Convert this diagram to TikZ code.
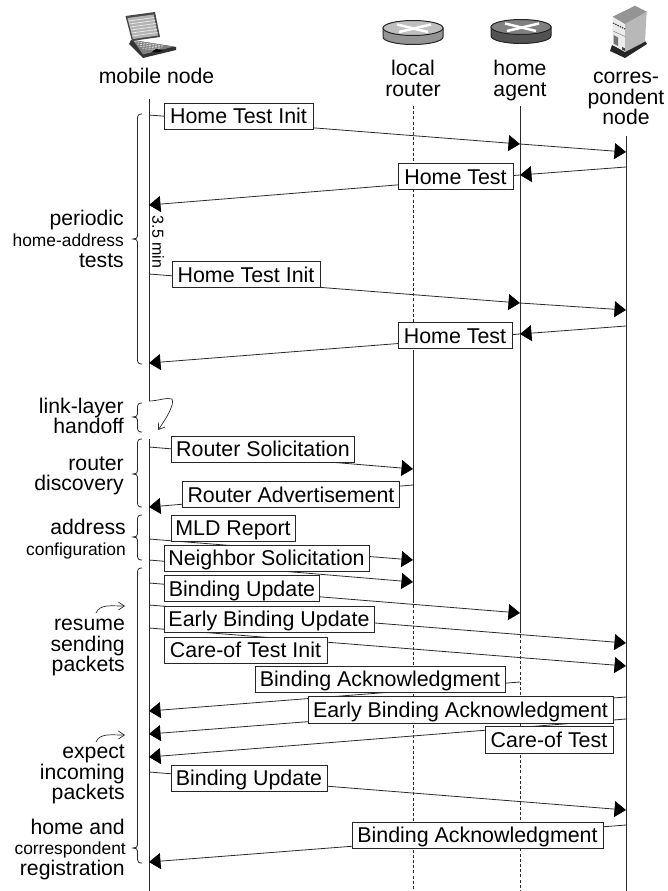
\documentclass[tikz,border=0pt]{standalone}
\usepackage{fontspec}
\setmainfont{Liberation Sans}
\usetikzlibrary{arrows.meta}
\definecolor{ln}{HTML}{2A2A2A}
\tikzset{
  x=1pt,y=-1pt,
  life/.style={line width=1pt,draw=ln},
  lifed/.style={line width=0.9pt,draw=ln,dash pattern=on 3pt off 2.2pt},
  msg/.style={line width=0.8pt,draw=ln},
  tip/.style={-{Triangle[length=11.5pt,width=16pt,color=black]}},
  msgbox/.style={draw=black!85,line width=1pt,fill=white,inner sep=0pt,text height=20.5pt,text depth=5.5pt,font=\fontsize{21.4}{24}\selectfont,text=black},
  lab/.style={inner sep=0pt,anchor=mid east,yshift=-4.5pt,font=\fontsize{21.2}{24}\selectfont},
  nlab/.style={inner sep=0pt,anchor=mid east,yshift=-4.5pt,font=\fontsize{17.4}{20}\selectfont},
  hlab/.style={inner sep=0pt,anchor=mid,yshift=-4.5pt,font=\fontsize{21.2}{24}\selectfont},
  brc/.style={line width=0.8pt,draw=ln},
  cur/.style={line width=0.7pt,draw=ln,-{Straight Barb[length=6pt,width=8pt]}},
}
\newcommand{\mybrace}[3]{%
  \draw[brc] (142,#1) .. controls (138.5,#1) and (137.5,#1+1) .. (137.5,#1+5)
    -- (137.5,#3-3) .. controls (137.5,#3-1) and (136,#3) .. (133,#3)
    .. controls (136,#3) and (137.5,#3+1) .. (137.5,#3+3)
    -- (137.5,#2-5) .. controls (137.5,#2-1) and (138.5,#2) .. (142,#2);}
\begin{document}
\begin{tikzpicture}
\useasboundingbox (0,0) rectangle (667,891);
% lifelines
\coordinate (mA) at (149,99); \coordinate (mB) at (149,401);
\coordinate (mC) at (149,439); \coordinate (mD) at (149,891);
\coordinate (rA) at (413,106); \coordinate (rB) at (413,353);
\coordinate (rC) at (413,600); \coordinate (rD) at (413,891);
\coordinate (hA) at (520,106); \coordinate (hB) at (520,630); \coordinate (hC) at (520,891);
\coordinate (cA) at (626,136); \coordinate (cB) at (626,891);
\draw[life] (mA) -- (mB);
\draw[life] (mC) -- (mD);
\draw[lifed] (rA) -- (rB);
\draw[life] (rB) -- (rC);
\draw[lifed] (rC) -- (rD);
\draw[life] (hA) -- (hB);
\draw[lifed] (hB) -- (hC);
\draw[life] (cA) -- (cB);
% handoff curve
\coordinate (hoEnd) at (158,430);
\draw[cur] (mB) .. controls (158,401) and (167,397) .. (172,399) .. controls (175,404) and (166,419) .. (hoEnd);
% small curved arrows
\coordinate (ra) at (96,613); \coordinate (rb) at (125,606);
\draw[cur] (ra) .. controls (100,604) and (110,606) .. (rb);
\coordinate (ea) at (96,742); \coordinate (eb) at (125,735);
\draw[cur] (ea) .. controls (100,733) and (110,735) .. (eb);
% messages
\coordinate (a1) at (149,115); \coordinate (a2) at (520,144); \coordinate (a3) at (626,152);
\draw[msg,tip] (a1) -- (a2); \draw[msg,tip] (a2) -- (a3);
\coordinate (b1) at (626,167); \coordinate (b2) at (520,175); \coordinate (b3) at (149,205);
\draw[msg,tip] (b1) -- (b2); \draw[msg,tip] (b2) -- (b3);
\coordinate (c1) at (149,274); \coordinate (c2) at (520,303); \coordinate (c3) at (626,310);
\draw[msg,tip] (c1) -- (c2); \draw[msg,tip] (c2) -- (c3);
\coordinate (d1) at (626,326); \coordinate (d2) at (520,334); \coordinate (d3) at (149,363);
\draw[msg,tip] (d1) -- (d2); \draw[msg,tip] (d2) -- (d3);
\coordinate (e1) at (149,447); \coordinate (e2) at (413,469);
\draw[msg,tip] (e1) -- (e2);
\coordinate (f1) at (413,485); \coordinate (f2) at (149,507);
\draw[msg,tip] (f1) -- (f2);
\coordinate (g1) at (149,539); \coordinate (g2) at (413,560);
\draw[msg,tip] (g1) -- (g2);
\coordinate (h1) at (149,560); \coordinate (h2) at (413,582);
\draw[msg,tip] (h1) -- (h2);
\coordinate (i1) at (149,583); \coordinate (i2) at (520,613);
\draw[msg,tip] (i1) -- (i2);
\coordinate (j1) at (149,605); \coordinate (j2) at (626,643);
\draw[msg,tip] (j1) -- (j2);
\coordinate (k1) at (149,628); \coordinate (k2) at (626,666);
\draw[msg,tip] (k1) -- (k2);
\coordinate (l1) at (520,682); \coordinate (l2) at (149,711);
\draw[msg,tip] (l1) -- (l2);
\coordinate (n1) at (626,697); \coordinate (n2) at (149,734);
\draw[msg,tip] (n1) -- (n2);
\coordinate (o1) at (626,719); \coordinate (o2) at (149,757);
\draw[msg,tip] (o1) -- (o2);
\coordinate (p1) at (149,772); \coordinate (p2) at (626,810);
\draw[msg,tip] (p1) -- (p2);
\coordinate (q1) at (626,825); \coordinate (q2) at (149,862);
\draw[msg,tip] (q1) -- (q2);
% boxes
\node[msgbox,minimum width=149pt,minimum height=26pt] (bxa) at (238.5,116) {Home Test Init};
\node[msgbox,minimum width=115pt,minimum height=26.5pt] (bxb) at (455.5,176.5) {Home Test};
\node[msgbox,minimum width=148pt,minimum height=26.5pt] (bxc) at (246,274.5) {Home Test Init};
\node[msgbox,minimum width=114pt,minimum height=26.5pt] (bxd) at (455,335.5) {Home Test};
\node[msgbox,minimum width=183pt,minimum height=26pt] (bxe) at (263,449) {Router Solicitation};
\node[msgbox,minimum width=217pt,minimum height=25.5pt] (bxf) at (291,494.5) {Router Advertisement};
\node[msgbox,minimum width=124pt,minimum height=26pt] (bxg) at (233,528) {MLD Report};
\node[msgbox,minimum width=205pt,minimum height=26pt] (bxh) at (266.5,558) {Neighbor Solicitation};
\node[msgbox,minimum width=155pt,minimum height=26.5pt] (bxi) at (242,588.5) {Binding Update};
\node[msgbox,minimum width=210pt,minimum height=26pt] (bxj) at (269,619) {Early Binding Update};
\node[msgbox,minimum width=163pt,minimum height=26pt] (bxk) at (245.5,650) {Care-of Test Init};
\node[msgbox,minimum width=250pt,minimum height=26pt] (bxl) at (380,679) {Binding Acknowledgment};
\node[msgbox,minimum width=305pt,minimum height=27pt] (bxn) at (460.5,709.5) {Early Binding Acknowledgment};
\node[msgbox,minimum width=128pt,minimum height=27pt] (bxo) at (549,739.5) {Care-of Test};
\node[msgbox,minimum width=156pt,minimum height=26pt] (bxp) at (249,778) {Binding Update};
\node[msgbox,minimum width=251pt,minimum height=26pt] (bxq) at (477.5,835) {Binding Acknowledgment};
% 3.5 min
\node[rotate=-90,inner sep=0pt,font=\fontsize{16}{18}\selectfont] (per) at (158,242) {3.5 min};
% braces
\mybrace{114}{364}{239}
\mybrace{403}{432}{417}
\mybrace{439}{507}{474}
\mybrace{515}{560}{537}
\mybrace{568}{863}{848}
% left labels
\node[lab] (t1) at (124,218) {periodic};
\node[nlab] (t2) at (124,239) {home-address};
\node[lab] (t3) at (124,260) {tests};
\node[lab] (t4) at (124,406) {link-layer};
\node[lab] (t5) at (124,426) {handoff};
\node[lab] (t6) at (124,463) {router};
\node[lab] (t7) at (124,483) {discovery};
\node[lab] (t8) at (126,527) {address};
\node[nlab] (t9) at (126,548) {configuration};
\node[lab] (t10) at (125,623) {resume};
\node[lab] (t11) at (125,644) {sending};
\node[lab] (t12) at (125,664) {packets};
\node[lab] (t13) at (125,751) {expect};
\node[lab] (t14) at (125,772) {incoming};
\node[lab] (t15) at (125,792) {packets};
\node[lab] (t16) at (125,827) {home and};
\node[nlab] (t17) at (126,847) {correspondent};
\node[lab] (t18) at (125,868) {registration};
% head labels
\node[hlab] (h1t) at (156.5,76) {mobile node};
\node[hlab] (h2t) at (413,68) {local};
\node[hlab] (h3t) at (413,89) {router};
\node[hlab] (h4t) at (520,68) {home};
\node[hlab] (h5t) at (520,89) {agent};
\node[hlab] (h6t) at (626,76) {corres-};
\node[hlab] (h7t) at (626,97) {pondent};
\node[hlab] (h8t) at (626,117) {node};
% laptop
\fill[black!80] (131,40) -- (176,47) -- (176,50) -- (143,58) -- (129,44) -- cycle;
\fill[black!50] (133,40) -- (174,46.5) -- (143,54.5) -- cycle;
\foreach \i in {0,1,2,3}{\draw[black!15,line width=0.8pt,dash pattern=on 2pt off 1pt] (134.5+2.6*\i,41.5+\i*2.4) -- (163-1.5*\i,46+\i*1.2);}
\fill[black] (156,49) -- (163,50) -- (158,52.5) -- (152,51.5) -- cycle;
\fill[black!72] (125.5,16) -- (155,12) -- (160,37) -- (132,41) -- cycle;
\fill[black!30] (127.5,18) -- (153.5,14.5) -- (158,35.5) -- (133,39) -- cycle;
\foreach \i in {1,...,6}{\draw[black!8,line width=0.7pt] (127.9+\i*0.72,18+\i*3) -- (153.8+\i*0.65,14.5+\i*3);}
% local router
\draw[fill=black!42,line width=1pt,draw=black!85] (383,28) -- (383,37) arc[start angle=180,end angle=360,x radius=30pt,y radius=7.5pt] -- (443,28) -- cycle;
\draw[fill=black!25,line width=1pt,draw=black!85] (413,28) ellipse[x radius=30pt,y radius=7.5pt];
\draw[white,line width=2.5pt] (397,24.5) -- (428,32);
\draw[white,line width=2.5pt] (399,32) -- (431,24.5);
% home router
\draw[fill=black!68,line width=1pt,draw=black!85] (491,27) -- (491,36) arc[start angle=180,end angle=360,x radius=30pt,y radius=7.5pt] -- (551,27) -- cycle;
\draw[fill=black!50,line width=1pt,draw=black!85] (521,27) ellipse[x radius=30pt,y radius=7.5pt];
\draw[white,line width=2.5pt] (505,23.5) -- (536,31);
\draw[white,line width=2.5pt] (507,31) -- (539,23.5);
% server
\fill[black!85] (610,51) -- (625,58) -- (647,44) -- (645,41) -- (625,51) -- (612,45) -- cycle;
\fill[black!8] (612.7,16.7) -- (625,24) -- (625,52) -- (612.7,45) -- cycle;
\fill[black!28] (625,24) -- (646.7,11.7) -- (645,41.7) -- (625,52) -- cycle;
\fill[black!42] (612.7,16.7) -- (635,5.7) -- (646.7,11.7) -- (625,24) -- cycle;
\draw[black!70,line width=1.2pt,dash pattern=on 1.5pt off 1pt] (613,23) -- (625,29);
\draw[black!50,line width=0.5pt] (613,31) -- (625,36.5);
\fill[black!55] (613.5,35) -- (618,37.5) -- (618,46) -- (613.5,43.5) -- cycle;
\fill[black!75] (622,47) -- (625,48.5) -- (625,51) -- (622,49.5) -- cycle;
\end{tikzpicture}
\end{document}
